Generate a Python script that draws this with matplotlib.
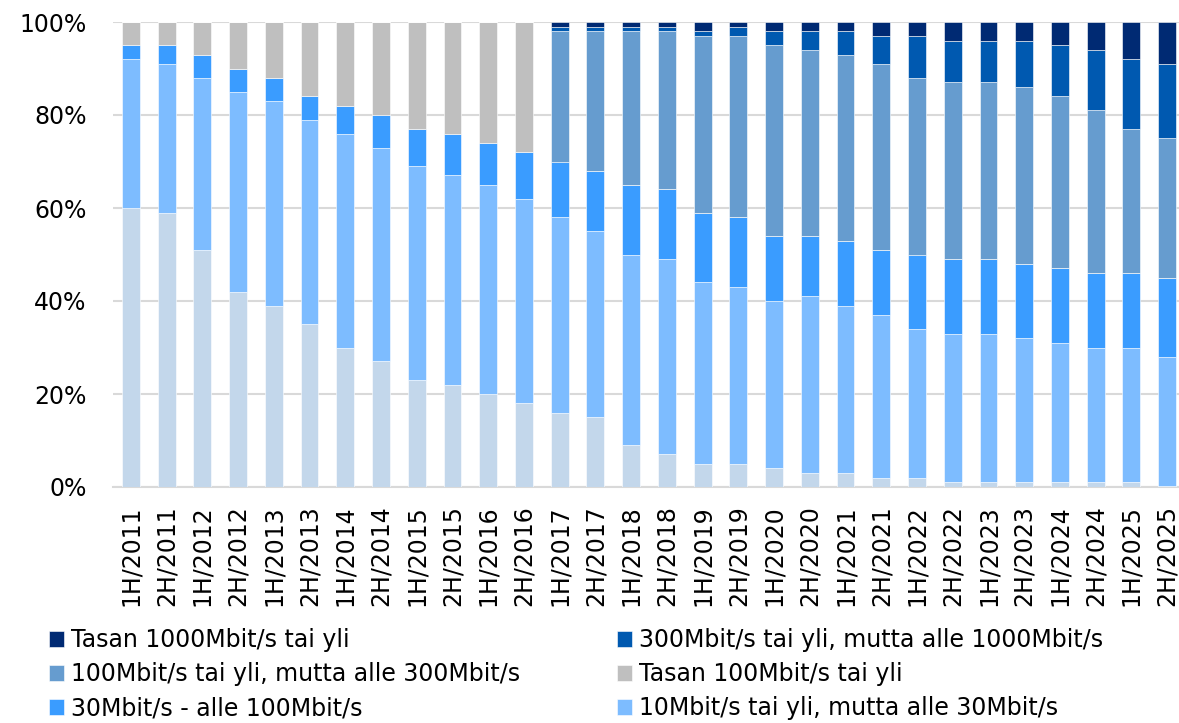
import matplotlib
matplotlib.use("Agg")
import matplotlib.pyplot as plt
import numpy as np

periods = ["1H/2011", "2H/2011", "1H/2012", "2H/2012", "1H/2013", "2H/2013",
           "1H/2014", "2H/2014", "1H/2015", "2H/2015", "1H/2016", "2H/2016",
           "1H/2017", "2H/2017", "1H/2018", "2H/2018", "1H/2019", "2H/2019",
           "1H/2020", "2H/2020", "1H/2021", "2H/2021", "1H/2022", "2H/2022",
           "1H/2023", "2H/2023", "1H/2024", "2H/2024", "1H/2025", "2H/2025"]

alle_10 = [60, 59, 51, 42, 39, 35, 30, 27, 23, 22, 20, 18, 16, 15, 9, 7, 5, 5,
           4, 3, 3, 2, 2, 1, 1, 1, 1, 1, 1, 0.3]
v10_30 = [32, 32, 37, 43, 44, 44, 46, 46, 46, 45, 45, 44, 42, 40, 41, 42, 39, 38,
          36, 38, 36, 35, 32, 32, 32, 31, 30, 29, 29, 27.7]
v30_100 = [3, 4, 5, 5, 5, 5, 6, 7, 8, 9, 9, 10, 12, 13, 15, 15, 15, 15,
           14, 13, 14, 14, 16, 16, 16, 16, 16, 16, 16, 17]
tasan_100 = [5, 5, 7, 10, 12, 16, 18, 20, 23, 24, 26, 28, 0, 0, 0, 0, 0, 0,
             0, 0, 0, 0, 0, 0, 0, 0, 0, 0, 0, 0]
v100_300 = [0, 0, 0, 0, 0, 0, 0, 0, 0, 0, 0, 0, 28, 30, 33, 34, 38, 39,
            41, 40, 40, 40, 38, 38, 38, 38, 37, 35, 31, 30]
v300_1000 = [0, 0, 0, 0, 0, 0, 0, 0, 0, 0, 0, 0, 1, 1, 1, 1, 1, 2,
             3, 4, 5, 6, 9, 9, 9, 10, 11, 13, 15, 16]
tasan_1000 = [0, 0, 0, 0, 0, 0, 0, 0, 0, 0, 0, 0, 1, 1, 1, 1, 2, 1,
              2, 2, 2, 3, 3, 4, 4, 4, 5, 6, 8, 9]

series = [
    ("Alle 10Mbit/s", alle_10, "#c3d7eb"),
    ("10Mbit/s tai yli, mutta alle 30Mbit/s", v10_30, "#7dbcff"),
    ("30Mbit/s - alle 100Mbit/s", v30_100, "#3a9cff"),
    ("Tasan 100Mbit/s tai yli", tasan_100, "#bfbfbf"),
    ("100Mbit/s tai yli, mutta alle 300Mbit/s", v100_300, "#669ccf"),
    ("300Mbit/s tai yli, mutta alle 1000Mbit/s", v300_1000, "#0059b0"),
    ("Tasan 1000Mbit/s tai yli", tasan_1000, "#002a73"),
]

plt.rcParams['font.family'] = ['DejaVu Sans']
FS = 17
fig = plt.figure(figsize=(11.79, 7.23), dpi=100)
W, H = 1179, 723
ax = fig.add_axes([113 / W, 1 - 487 / H, (1185 - 113) / W, (487 - 22) / H])

x = np.arange(len(periods))
bottom = np.zeros(len(periods))
handles = {}
for name, vals, col in series:
    v = np.array(vals, dtype=float)
    h = ax.bar(x, v, bottom=bottom, width=0.5, color=col, edgecolor="white",
               linewidth=0.4, zorder=3, label=name)
    handles[name] = h
    bottom += v

ax.set_xlim(-0.5, 29.5)
ax.set_ylim(0, 100)
ax.set_yticks([0, 20, 40, 60, 80, 100])
ax.set_yticklabels(["0%", "20%", "40%", "60%", "80%", "100%"])
ax.set_xticks(x)
ax.set_xticklabels(periods, rotation=90)
ax.tick_params(axis="both", length=0, labelsize=FS, colors="black")
ax.tick_params(axis="x", pad=13)
ax.tick_params(axis="y", pad=19)
ax.grid(axis="y", color="#d9d9d9", linewidth=1.5, zorder=0)
for s in ["top", "right", "left"]:
    ax.spines[s].set_visible(False)
ax.spines["bottom"].set_color("#d9d9d9")
ax.spines["bottom"].set_linewidth(1.5)

order = ["Tasan 1000Mbit/s tai yli",
         "100Mbit/s tai yli, mutta alle 300Mbit/s",
         "30Mbit/s - alle 100Mbit/s",
         "300Mbit/s tai yli, mutta alle 1000Mbit/s",
         "Tasan 100Mbit/s tai yli",
         "10Mbit/s tai yli, mutta alle 30Mbit/s"]
leg = fig.legend([handles[n] for n in order], order, ncol=2,
                 loc="upper left", bbox_to_anchor=(40 / W, 1 - 619 / H),
                 frameon=False, fontsize=FS, handlelength=0.62,
                 handleheight=0.62, handletextpad=0.3, columnspacing=4.1,
                 labelspacing=0.42, borderaxespad=0)

fig.savefig("out.png", dpi=100)
